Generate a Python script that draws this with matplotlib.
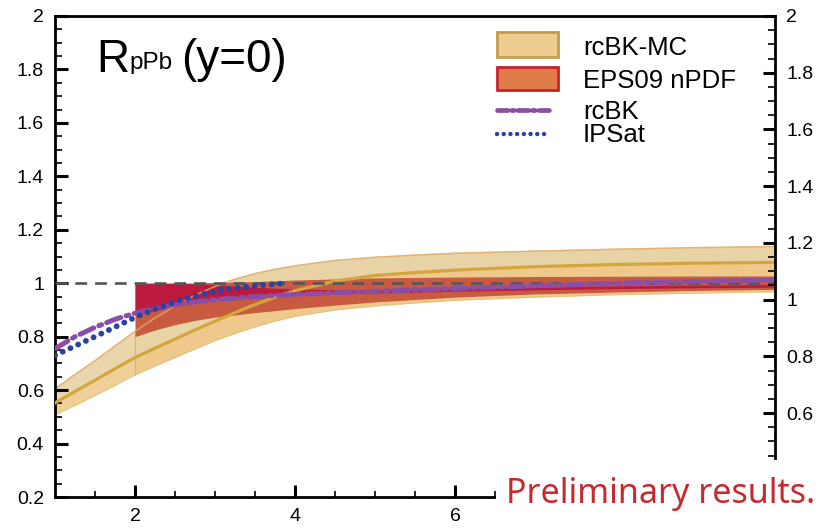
import numpy as np
import matplotlib
matplotlib.use("Agg")
import matplotlib.pyplot as plt
from matplotlib.patches import Rectangle
from matplotlib.lines import Line2D
from matplotlib.ticker import FixedLocator, FuncFormatter

plt.rcParams['font.family'] = ['Liberation Sans', 'DejaVu Sans']

# ---------------- data ----------------
# rcBK-MC band (gold)
mc_x = [1, 1.25, 1.5, 1.75, 2, 2.25, 2.5, 2.75, 3, 3.25, 3.5, 3.75, 4, 4.5, 5, 5.5, 6, 7, 8, 9, 10]
mc_center = [0.552, 0.595, 0.637, 0.680, 0.722, 0.757, 0.791, 0.825, 0.858, 0.890, 0.920, 0.948, 0.972,
             1.008, 1.029, 1.040, 1.049, 1.062, 1.070, 1.075, 1.078]
mc_upper = [0.605, 0.658, 0.710, 0.765, 0.820, 0.870, 0.915, 0.955, 0.988, 1.015, 1.036, 1.052, 1.065,
            1.085, 1.097, 1.105, 1.112, 1.120, 1.127, 1.133, 1.137]
mc_lower = [0.507, 0.543, 0.580, 0.618, 0.657, 0.690, 0.722, 0.754, 0.785, 0.812, 0.837, 0.858, 0.876,
            0.900, 0.915, 0.926, 0.936, 0.948, 0.957, 0.963, 0.968]

# EPS09 nPDF band (orange) and inner crimson band
eps_x = [2, 2.25, 2.5, 2.75, 3, 3.5, 4, 4.5, 5, 6, 7, 8, 9, 10]
eps_upper = [1.000, 1.000, 1.000, 1.001, 1.003, 1.006, 1.012, 1.016, 1.020, 1.023, 1.025, 1.026, 1.027, 1.027]
eps_lower = [0.800, 0.825, 0.845, 0.861, 0.873, 0.890, 0.905, 0.918, 0.930, 0.948, 0.960, 0.967, 0.973, 0.977]
eps_in_top = [1.000, 1.000, 1.000, 0.998, 0.995, 0.985, 0.978, 0.976, 0.975, 0.980, 0.985, 0.990, 0.993, 0.995]
eps_in_bot = [0.880, 0.898, 0.913, 0.928, 0.940, 0.953, 0.960, 0.962, 0.963, 0.970, 0.975, 0.980, 0.983, 0.985]

# rcBK (purple dash-dot)
rcbk_x = [1, 1.25, 1.5, 1.75, 2, 2.25, 2.5, 2.75, 3, 3.5, 4, 5, 6, 7, 8, 9, 10]
rcbk_y = [0.755, 0.800, 0.835, 0.865, 0.888, 0.906, 0.920, 0.930, 0.938, 0.950, 0.958, 0.970, 0.980,
          0.990, 1.000, 1.007, 1.013]

# IPSat (blue dotted)
ipsat_x = [1, 1.25, 1.5, 1.75, 2, 2.25, 2.5, 2.75, 3, 3.25, 3.5, 3.75, 3.9]
ipsat_y = [0.730, 0.765, 0.800, 0.836, 0.872, 0.903, 0.930, 0.952, 0.970, 0.982, 0.990, 0.997, 1.000]

x_major = [2, 4, 6, 8, 10]
x_labels = {2: "2", 4: "4", 6: "6"}   # 8 and 10 are hidden under the stamp
y_left_major = [0.2, 0.4, 0.6, 0.8, 1.0, 1.2, 1.4, 1.6, 1.8, 2.0]
y_right_major = [0.6, 0.8, 1.0, 1.2, 1.4, 1.6, 1.8, 2.0]
legend_labels = ["rcBK-MC", "EPS09 nPDF", "rcBK", "IPSat"]
title_parts = ["R", "pPb", "(y=0)"]
stamp = "Preliminary results."

# ---------------- figure ----------------
W, H = 823, 528
fig = plt.figure(figsize=(W / 100, H / 100), dpi=100)
L, R, T, B = 55, 775, 16, 497
ax = fig.add_axes([L / W, 1 - B / H, (R - L) / W, (B - T) / H])
ax.set_xlim(1, 10)
ax.set_ylim(0.2, 2.0)

gold_light = '#e8d3a6'
gold_sat = '#efc98b'
gold_line = '#d2a63c'

mc_x_a = np.array(mc_x)
c = np.array(mc_center); u = np.array(mc_upper); lo = np.array(mc_lower)
for seg, cl, cs in ((mc_x_a <= 2, '#ead6ad', '#efd098'), (mc_x_a >= 2, gold_light, gold_sat)):
    ax.fill_between(mc_x_a[seg], c[seg], u[seg], color=cl, lw=0, zorder=1)
    ax.fill_between(mc_x_a[seg], lo[seg], c[seg], color=cs, lw=0, zorder=1)
ax.plot(mc_x, mc_upper, color='#dcb870', lw=0.8, alpha=0.8, zorder=1.5)
ax.plot(mc_x, mc_lower, color='#e3bf7c', lw=0.8, alpha=0.8, zorder=1.5)
ax.vlines(2, mc_lower[4], mc_upper[4], color='#ddb27a', lw=0.8, zorder=1.5)

ax.fill_between(eps_x, eps_lower, eps_upper, color='#c85a40', lw=0, zorder=2)
ax.fill_between(eps_x, eps_in_bot, eps_in_top, color='#bd1a40', lw=0, zorder=2.1)

ax.plot(mc_x, mc_upper, color='#e2ad6a', lw=1.2, alpha=0.75, zorder=2.5)
ax.plot(mc_x, mc_center, color=gold_line, lw=2.3, zorder=3)

ax.plot([1, 10], [1, 1], color='#555555', lw=1.9, dashes=(4.5, 3), zorder=3.5)

ax.plot(rcbk_x, rcbk_y, color='#8a4ea8', lw=3.6, dashes=(3.0, 1.1, 0.6, 1.1),
        dash_capstyle='round', zorder=4)
ax.plot(ipsat_x, ipsat_y, color='#2a42a0', lw=4.2, dashes=(0.01, 1.45),
        dash_capstyle='round', zorder=4.5)

# ---------------- axes styling ----------------
for s in ['left', 'top', 'bottom']:
    ax.spines[s].set_linewidth(2.0)
ax.spines['right'].set_visible(False)

fmt = FuncFormatter(lambda v, p: f"{v:g}")
ax.xaxis.set_major_locator(FixedLocator(x_major))
ax.xaxis.set_major_formatter(FuncFormatter(lambda v, p: x_labels.get(int(round(v)), "")))
xm = [v for v in np.arange(1.5, 10.0, 0.5) if v not in x_major]
ax.xaxis.set_minor_locator(FixedLocator(xm))
ax.yaxis.set_major_locator(FixedLocator(y_left_major))
ax.yaxis.set_major_formatter(fmt)
ym = [round(v, 2) for v in np.arange(0.25, 2.0, 0.05) if round(v, 2) not in [round(t, 2) for t in y_left_major]]
ax.yaxis.set_minor_locator(FixedLocator(ym))

ax.tick_params(axis='both', which='major', direction='in', length=9, width=2.2,
               labelsize=14, top=False, right=False, pad=8)
ax.tick_params(axis='both', which='minor', direction='in', length=5, width=1.2,
               top=False, right=False)
ax.tick_params(axis='x', which='minor', length=4)

# right axis (separate scale)
ax2 = ax.twinx()
ax2.set_ylim(0.304, 2.0)
for s in ['left', 'top', 'bottom']:
    ax2.spines[s].set_visible(False)
ax2.spines['right'].set_linewidth(2.0)
ax2.spines['right'].set_bounds(0.44, 2.0)
ax2.yaxis.set_major_locator(FixedLocator(y_right_major))
ax2.yaxis.set_major_formatter(fmt)
ym2 = [round(v, 2) for v in np.arange(0.45, 2.0, 0.05) if round(v, 2) not in [round(t, 2) for t in y_right_major]]
ax2.yaxis.set_minor_locator(FixedLocator(ym2))
ax2.tick_params(axis='y', which='major', direction='in', length=9, width=2.2, labelsize=14, pad=8)
ax2.tick_params(axis='y', which='minor', direction='in', length=5, width=1.2)

# ---------------- title ----------------
def fx(px): return px / W
def fy(py): return 1 - py / H

fig.text(fx(96), fy(72), title_parts[0], fontsize=33, ha='left', va='baseline')
fig.text(fx(129), fy(69), title_parts[1], fontsize=17.5, ha='left', va='baseline')
fig.text(fx(181), fy(72), title_parts[2], fontsize=33, ha='left', va='baseline')

# ---------------- legend ----------------
fig.add_artist(Rectangle((fx(497), fy(57)), 61 / W, 25 / H, transform=fig.transFigure,
                         facecolor='#eccd8f', edgecolor='#c49a4c', lw=2.0, zorder=5))
fig.add_artist(Rectangle((fx(497), fy(90)), 61 / W, 23 / H, transform=fig.transFigure,
                         facecolor='#e07b4a', edgecolor='#c8242c', lw=2.0, zorder=5))
fig.add_artist(Line2D([fx(497), fx(549)], [fy(110), fy(110)], transform=fig.transFigure,
                      color='#8a4ea8', lw=3.4, dashes=(2.2, 0.8, 0.6, 0.8),
                      dash_capstyle='round', zorder=5))
fig.add_artist(Line2D([fx(497), fx(549)], [fy(134), fy(134)], transform=fig.transFigure,
                      color='#2a42a0', lw=3.2, dashes=(0.01, 1.5),
                      dash_capstyle='round', zorder=5))
leg_y = [55, 88, 119, 142]
for lab, yy in zip(legend_labels, leg_y):
    fig.text(fx(583), fy(yy), lab, fontsize=18.5, ha='left', va='baseline', zorder=6)

# ---------------- preliminary stamp ----------------
fig.add_artist(Rectangle((fx(496), 0), (W - 496) / W, (H - 466) / H, transform=fig.transFigure,
                         facecolor='white', edgecolor='none', zorder=10))
fig.text(fx(506), fy(503), stamp, fontsize=24.5, color='#c42a2e', ha='left', va='baseline',
         family=['Noto Sans', 'DejaVu Sans'], zorder=11)

fig.savefig("out.png", dpi=100)
